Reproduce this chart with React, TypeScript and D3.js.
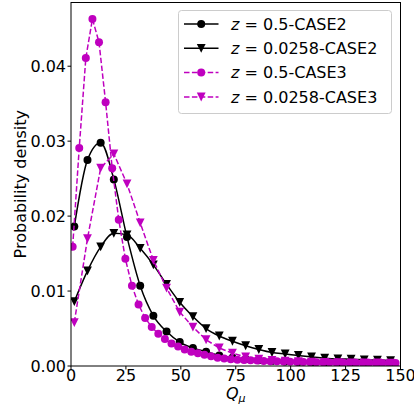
import React from "react";
import * as d3 from "d3";

const W = 414;
const H = 409;

// Series: x positions (Q_mu) and probability density values
const xCoarse = d3.range(25).map((k) => 1.5 + 6 * k);
const xFine = d3.range(50).map((k) => 0.75 + 3 * k);

const case2z05 = [
  0.0186, 0.0275, 0.0298, 0.0249, 0.0172, 0.0107, 0.0067, 0.0046, 0.0032, 0.0024,
  0.0019, 0.0014, 0.0011, 0.0009, 0.00078, 0.00068, 0.0006, 0.00054, 0.00049, 0.00045,
  0.00042, 0.0004, 0.00038, 0.00036, 0.00035,
];
const case2z0258 = [
  0.0086, 0.0127, 0.0159, 0.0177, 0.0175, 0.0157, 0.0135, 0.0109, 0.0085, 0.0066,
  0.005, 0.004, 0.0033, 0.0027, 0.0022, 0.0018, 0.0016, 0.0014, 0.0012, 0.00105,
  0.00095, 0.0009, 0.00083, 0.00078, 0.00073,
];
const case3z05 = [
  0.0159, 0.0291, 0.0411, 0.0463, 0.0432, 0.0352, 0.0264, 0.0195, 0.0143, 0.0107,
  0.0082, 0.0064, 0.0052, 0.0043, 0.0036, 0.003, 0.0026, 0.0022, 0.0019, 0.0017,
  0.0015, 0.0013, 0.0011, 0.001, 0.0009, 0.00085, 0.0008, 0.00076, 0.00072, 0.00068,
  0.00065, 0.00062, 0.0006, 0.00058, 0.00056, 0.00054, 0.00052, 0.0005, 0.00049, 0.00048,
  0.00047, 0.00046, 0.00045, 0.00044, 0.00043, 0.00042, 0.00041, 0.0004, 0.0004, 0.00039,
];
const case3z0258 = [
  0.0058, 0.017, 0.0264, 0.0283, 0.0243, 0.0191, 0.0141, 0.0104, 0.0072, 0.0052,
  0.0035, 0.0024, 0.0017, 0.0012, 0.0009, 0.00075, 0.00065, 0.00058, 0.00052, 0.00048,
  0.00045, 0.00043, 0.00041, 0.0004, 0.00039,
];

const xTicks = [0, 25, 50, 75, 100, 125, 150];
const yTicks = [0, 0.01, 0.02, 0.03, 0.04];
const legendLabels = ["0.5-CASE2", "0.0258-CASE2", "0.5-CASE3", "0.0258-CASE3"];

const BLACK = "#000000";
const MAG = "#bf00bf";

type Series = {
  xs: number[];
  ys: number[];
  color: string;
  marker: "circle" | "tri";
  dashed: boolean;
  smooth: boolean;
};

const series: Series[] = [
  { xs: xCoarse, ys: case2z05, color: BLACK, marker: "circle", dashed: false, smooth: true },
  { xs: xCoarse, ys: case2z0258, color: BLACK, marker: "tri", dashed: false, smooth: true },
  { xs: xFine, ys: case3z05, color: MAG, marker: "circle", dashed: true, smooth: false },
  { xs: xCoarse, ys: case3z0258, color: MAG, marker: "tri", dashed: true, smooth: false },
];

const FONT = "DejaVu Sans, sans-serif";

function Marker({ x, y, type, color }: { x: number; y: number; type: string; color: string }) {
  if (type === "circle") return <circle cx={x} cy={y} r={4} fill={color} />;
  const s = 4.4;
  return (
    <path
      d={`M${x - s},${y - s}L${x + s},${y - s}L${x},${y + s}Z`}
      fill={color}
    />
  );
}

export default function App() {
  const left = 71;
  const right = 400.5;
  const top = 2.5;
  const bottom = 366;
  const x = d3.scaleLinear().domain([0, 150]).range([left, right]);
  const y = d3.scaleLinear().domain([0, 0.0485]).range([bottom, top]);

  const smoothLine = d3
    .line<[number, number]>()
    .x((d) => x(d[0]))
    .y((d) => y(d[1]))
    .curve(d3.curveMonotoneX);
  const straightLine = d3
    .line<[number, number]>()
    .x((d) => x(d[0]))
    .y((d) => y(d[1]));

  const legendRows = [24, 48.3, 72.6, 97];

  return (
    <svg
      width={W}
      height={H}
      style={{ position: "absolute", left: 0, top: 0, background: "#fff" }}
      fontFamily={FONT}
    >
      <defs>
        <clipPath id="plotclip">
          <rect x={left} y={top} width={right - left} height={bottom - top} />
        </clipPath>
      </defs>
      <rect width={W} height={H} fill="#fff" />
      <g clipPath="url(#plotclip)">
        {series.map((s, i) => {
          const pts = s.xs.map((xv, j) => [xv, s.ys[j]] as [number, number]);
          const gen = s.smooth ? smoothLine : straightLine;
          return (
            <g key={i}>
              <path
                d={gen(pts) || ""}
                fill="none"
                stroke={s.color}
                strokeWidth={1.5}
                strokeDasharray={s.dashed ? "5.5,2.4" : undefined}
              />
              {pts.map((p, j) => (
                <Marker key={j} x={x(p[0])} y={y(p[1])} type={s.marker} color={s.color} />
              ))}
            </g>
          );
        })}
      </g>
      {/* frame */}
      <rect
        x={left}
        y={top}
        width={right - left}
        height={bottom - top}
        fill="none"
        stroke="#000"
        strokeWidth={1}
      />
      {/* x ticks */}
      {xTicks.map((t) => (
        <g key={t}>
          <line x1={x(t)} x2={x(t)} y1={bottom} y2={bottom + 3.5} stroke="#000" />
          <text x={x(t)} y={380.5} fontSize={16} textAnchor="middle" fill="#000">
            {t}
          </text>
        </g>
      ))}
      {/* y ticks */}
      {yTicks.map((t) => (
        <g key={t}>
          <line x1={left - 3.5} x2={left} y1={y(t)} y2={y(t)} stroke="#000" />
          <text x={left - 5} y={y(t) + 6} fontSize={16} textAnchor="end" fill="#000">
            {t.toFixed(2)}
          </text>
        </g>
      ))}
      {/* axis labels */}
      <text x={(left + right) / 2} y={399} fontSize={16} textAnchor="middle" fill="#000">
        <tspan fontStyle="italic">Q</tspan>
        <tspan fontStyle="italic" fontSize={11} dy={3}>μ</tspan>
      </text>
      <text
        transform={`translate(25.5,${(top + bottom) / 2}) rotate(-90)`}
        fontSize={16}
        textAnchor="middle"
        fill="#000"
      >
        Probability density
      </text>
      {/* legend */}
      <rect
        x={178.5}
        y={10.5}
        width={213}
        height={103}
        rx={3}
        fill="#fff"
        fillOpacity={0.8}
        stroke="#cccccc"
        strokeWidth={1}
      />
      {series.map((s, i) => (
        <g key={i}>
          <line
            x1={184}
            x2={218.5}
            y1={legendRows[i]}
            y2={legendRows[i]}
            stroke={s.color}
            strokeWidth={1.5}
            strokeDasharray={s.dashed ? "5.5,2.4" : undefined}
          />
          <Marker x={201.2} y={legendRows[i]} type={s.marker} color={s.color} />
          <text x={231} y={legendRows[i] + 5.8} fontSize={16} fill="#000">
            <tspan fontStyle="italic">z</tspan>
            {" = " + legendLabels[i]}
          </text>
        </g>
      ))}
    </svg>
  );
}
